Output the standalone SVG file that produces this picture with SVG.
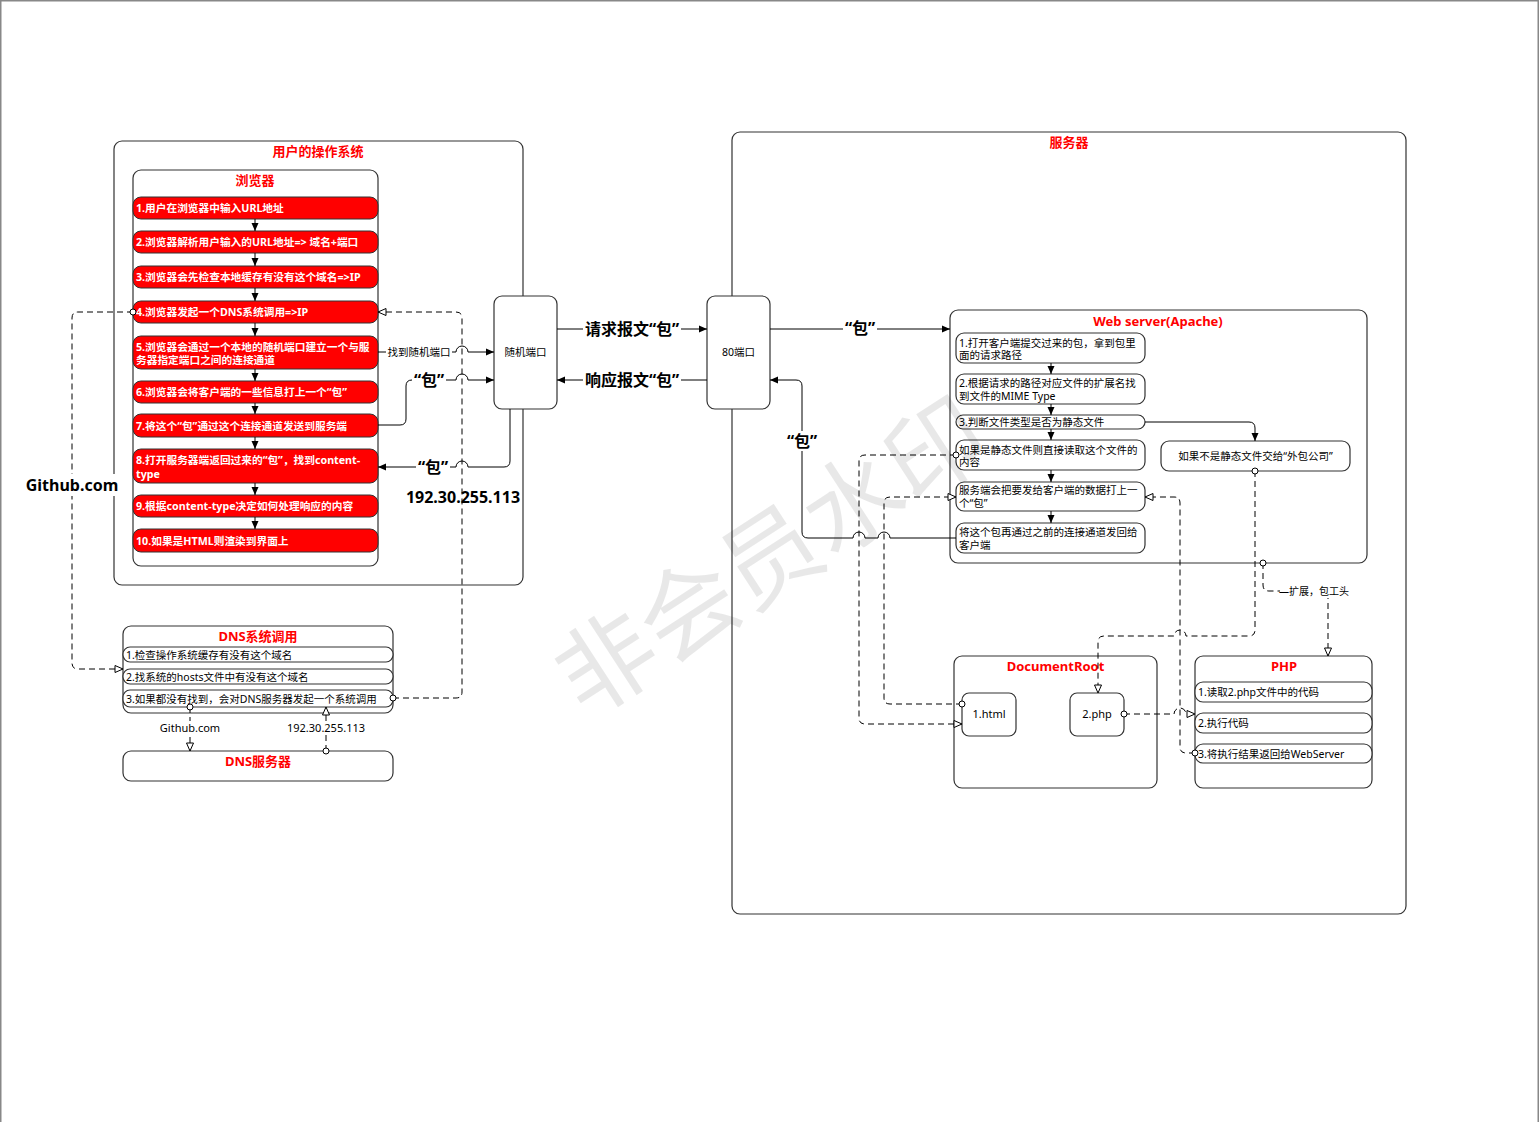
<svg xmlns="http://www.w3.org/2000/svg" width="1539" height="1122" viewBox="0 0 1539 1122">
<style>
text{font-family:"Noto Sans","Noto Sans CJK SC",sans-serif}
.box{fill:#fff;stroke:#333;stroke-width:1.2}
.step{fill:#ff0000;stroke:#333;stroke-width:1}
.title{fill:#ff0000;font-weight:bold;font-size:13px;text-anchor:middle}
.st{fill:#fff;font-weight:bold;font-size:10.7px}
.it{fill:#000;font-size:10.5px}
.c{text-anchor:middle}
.ln{fill:none;stroke:#000;stroke-width:1}
.dl{fill:none;stroke:#000;stroke-width:1;stroke-dasharray:6,4}
.big{font-weight:bold;font-size:16px;text-anchor:middle;fill:#000}
.bg{fill:#fff}
</style>
<defs>
<marker id="a" viewBox="0 0 8 8" refX="8" refY="4" markerWidth="8" markerHeight="8" markerUnits="userSpaceOnUse" orient="auto"><path d="M0,0.5 L8,4 L0,7.5 z" fill="#000"/></marker>
<marker id="h" viewBox="0 0 10 10" refX="9" refY="5" markerWidth="10" markerHeight="10" markerUnits="userSpaceOnUse" orient="auto"><path d="M1,1.5 L9,5 L1,8.5 z" fill="#fff" stroke="#000" stroke-width="1"/></marker>
<marker id="o" viewBox="0 0 8 8" refX="4" refY="4" markerWidth="8" markerHeight="8" markerUnits="userSpaceOnUse"><circle cx="4" cy="4" r="3" fill="#fff" stroke="#000" stroke-width="1"/></marker>
</defs>
<rect width="1539" height="1122" fill="#fff"/>
<path d="M0.75,1122 V0.75 H1538.25 V1122" fill="none" stroke="#888" stroke-width="1.5"/>

<g id="os">
<rect class="box" x="114" y="141" width="409" height="444" rx="8"/>
<text class="title" x="318" y="156">用户的操作系统</text>
</g>
<g id="server">
<rect class="box" x="732" y="132" width="674" height="782" rx="8"/>
<text class="title" x="1069" y="147">服务器</text>
</g>
<g id="browser">
<rect class="box" x="133" y="170" width="245" height="396" rx="8"/>
<text class="title" x="255" y="185">浏览器</text>
</g>
<g id="step1"><rect class="step" x="133" y="197" width="245" height="22" rx="8"/><text class="st" x="136" y="212">1.用户在浏览器中输入URL地址</text></g>
<g id="step2"><rect class="step" x="133" y="231" width="245" height="22" rx="8"/><text class="st" x="136" y="246">2.浏览器解析用户输入的URL地址=&gt; 域名+端口</text></g>
<g id="step3"><rect class="step" x="133" y="266" width="245" height="22" rx="8"/><text class="st" x="136" y="281">3.浏览器会先检查本地缓存有没有这个域名=&gt;IP</text></g>
<g id="step4"><rect class="step" x="133" y="301" width="245" height="22" rx="8"/><text class="st" x="136" y="316">4.浏览器发起一个DNS系统调用=&gt;IP</text></g>
<g id="step5"><rect class="step" x="133" y="336" width="245" height="33" rx="8"/><text class="st" x="136" y="350.5">5.浏览器会通过一个本地的随机端口建立一个与服</text><text class="st" x="136" y="363.5">务器指定端口之间的连接通道</text></g>
<g id="step6"><rect class="step" x="133" y="381" width="245" height="22" rx="8"/><text class="st" x="136" y="396">6.浏览器会将客户端的一些信息打上一个“包”</text></g>
<g id="step7"><rect class="step" x="133" y="414" width="245" height="23" rx="8"/><text class="st" x="136" y="429.5">7.将这个“包”通过这个连接通道发送到服务端</text></g>
<g id="step8"><rect class="step" x="133" y="449" width="245" height="34" rx="8"/><text class="st" x="136" y="464">8.打开服务器端返回过来的“包”，找到content-</text><text class="st" x="136" y="477.5">type</text></g>
<g id="step9"><rect class="step" x="133" y="495" width="245" height="22" rx="8"/><text class="st" x="136" y="510">9.根据content-type决定如何处理响应的内容</text></g>
<g id="step10"><rect class="step" x="133" y="529" width="245" height="23" rx="8"/><text class="st" x="136" y="544.5">10.如果是HTML则渲染到界面上</text></g>

<g id="dns">
<rect class="box" x="123" y="626" width="270" height="87" rx="8"/>
<text class="title" x="258" y="641">DNS系统调用</text>
<rect class="box" x="123" y="647" width="270" height="15" rx="7"/><text class="it" x="126" y="658.5">1.检查操作系统缓存有没有这个域名</text>
<rect class="box" x="123" y="669" width="270" height="15" rx="7"/><text class="it" x="126" y="680.5">2.找系统的hosts文件中有没有这个域名</text>
<rect class="box" x="123" y="690" width="270" height="17" rx="7"/><text class="it" x="126" y="702.5">3.如果都没有找到，会对DNS服务器发起一个系统调用</text>
</g>
<g id="dnsserver">
<rect class="box" x="123" y="751" width="270" height="30" rx="8"/>
<text class="title" x="258" y="766">DNS服务器</text>
</g>
<g id="randport">
<rect class="box" x="494" y="296" width="63" height="113" rx="8"/>
<text class="it c" x="525.5" y="356">随机端口</text>
</g>
<g id="port80">
<rect class="box" x="707" y="296" width="63" height="113" rx="8"/>
<text class="it c" x="738.5" y="356">80端口</text>
</g>

<g id="webserver">
<rect class="box" x="950" y="310" width="417" height="253" rx="8"/>
<text class="title" x="1158" y="326" font-size="14">Web server(Apache)</text>
</g>
<g id="ws1"><rect class="box" x="956" y="333" width="189" height="30" rx="8"/><text class="it" x="959" y="346.5">1.打开客户端提交过来的包，拿到包里</text><text class="it" x="959" y="359">面的请求路径</text></g>
<g id="ws2"><rect class="box" x="956" y="374" width="189" height="30" rx="8"/><text class="it" x="959" y="386.5">2.根据请求的路径对应文件的扩展名找</text><text class="it" x="959" y="399.5">到文件的MIME Type</text></g>
<g id="ws3"><rect class="box" x="956" y="415" width="189" height="14" rx="7"/><text class="it" x="959" y="426">3.判断文件类型是否为静态文件</text></g>
<g id="ws4"><rect class="box" x="956" y="440" width="189" height="30" rx="8"/><text class="it" x="959" y="453.5">如果是静态文件则直接读取这个文件的</text><text class="it" x="959" y="466">内容</text></g>
<g id="ws5"><rect class="box" x="956" y="482" width="189" height="29" rx="8"/><text class="it" x="959" y="494">服务端会把要发给客户端的数据打上一</text><text class="it" x="959" y="507">个“包”</text></g>
<g id="ws6"><rect class="box" x="956" y="523" width="189" height="30" rx="8"/><text class="it" x="959" y="535.5">将这个包再通过之前的连接通道发回给</text><text class="it" x="959" y="548.5">客户端</text></g>
<g id="outsource"><rect class="box" x="1161" y="441" width="189" height="30" rx="8"/><text class="it c" x="1255.5" y="460">如果不是静态文件交给“外包公司”</text></g>

<g id="docroot">
<rect class="box" x="954" y="656" width="203" height="132" rx="8"/>
<text class="title" x="1055.5" y="671">DocumentRoot</text>
</g>
<g id="html1"><rect class="box" x="962" y="693" width="54" height="43" rx="7"/><text class="c" x="989" y="718" font-size="11">1.html</text></g>
<g id="php2"><rect class="box" x="1070" y="693" width="54" height="43" rx="7"/><text class="c" x="1097" y="718" font-size="11">2.php</text></g>
<g id="php">
<rect class="box" x="1195" y="656" width="177" height="132" rx="8"/>
<text class="title" x="1284" y="671">PHP</text>
<rect class="box" x="1195" y="682" width="177" height="20" rx="8"/><text class="it" x="1198" y="696">1.读取2.php文件中的代码</text>
<rect class="box" x="1195" y="713" width="177" height="20" rx="8"/><text class="it" x="1198" y="727">2.执行代码</text>
<rect class="box" x="1195" y="744" width="177" height="19" rx="8"/><text class="it" x="1198" y="757.5">3.将执行结果返回给WebServer</text>
</g>

<g id="connectors">
<path class="ln" marker-end="url(#a)" d="M255,219 V231"/>
<path class="ln" marker-end="url(#a)" d="M255,253 V266"/>
<path class="ln" marker-end="url(#a)" d="M255,288 V301"/>
<path class="ln" marker-end="url(#a)" d="M255,323 V336"/>
<path class="ln" marker-end="url(#a)" d="M255,369 V381"/>
<path class="ln" marker-end="url(#a)" d="M255,403 V414"/>
<path class="ln" marker-end="url(#a)" d="M255,437 V449"/>
<path class="ln" marker-end="url(#a)" d="M255,483 V495"/>
<path class="ln" marker-end="url(#a)" d="M255,517 V529"/>

<path class="ln" marker-end="url(#a)" d="M1051,363 V374"/>
<path class="ln" marker-end="url(#a)" d="M1051,404 V415"/>
<path class="ln" marker-end="url(#a)" d="M1051,429 V440"/>
<path class="ln" marker-end="url(#a)" d="M1051,470 V482"/>
<path class="ln" marker-end="url(#a)" d="M1051,511 V523"/>
<path class="ln" marker-end="url(#a)" d="M1145,422 H1249 Q1255,422 1255,428 V441"/>

<path class="dl" marker-start="url(#o)" marker-end="url(#h)" d="M393,698 H456 Q462,698 462,692 V318 Q462,312 456,312 H378"/>
<path class="dl" marker-start="url(#o)" marker-end="url(#h)" d="M133,312 H78 Q72,312 72,318 V663 Q72,669 78,669 H123"/>
<rect class="bg" x="24" y="474" width="96" height="22"/>
<text class="big" x="72" y="491">Github.com</text>
<path class="dl" marker-start="url(#o)" marker-end="url(#h)" d="M190,707 V751"/>
<path class="dl" marker-start="url(#o)" marker-end="url(#h)" d="M326,751 V707"/>
<rect class="bg" x="158" y="721" width="66" height="14"/>
<text class="c" x="190" y="732" font-size="11">Github.com</text>
<rect class="bg" x="287" y="721" width="78" height="14"/>
<text class="c" x="326" y="732" font-size="11">192.30.255.113</text>

<path class="ln" marker-end="url(#a)" d="M378,352 H456 A6,6 0 0 1 468,352 H494"/>
<rect class="bg" x="386" y="345" width="66" height="14"/>
<text class="c" x="419" y="356" font-size="10.5">找到随机端口</text>
<path class="ln" marker-end="url(#a)" d="M378,425 H400 Q406,425 406,419 V386 Q406,380 412,380 H456 A6,6 0 0 1 468,380 H494"/>
<rect class="bg" x="412" y="370" width="34" height="20"/>
<text class="big" x="429" y="386">“包”</text>
<path class="ln" marker-end="url(#a)" d="M510,409 V461 Q510,467 504,467 H468 A6,6 0 0 0 456,467 H378"/>
<rect class="bg" x="416" y="457" width="34" height="20"/>
<text class="big" x="433" y="473">“包”</text>
<text class="big" x="463" y="503">192.30.255.113</text>

<path class="ln" marker-end="url(#a)" d="M557,329 H707"/>
<rect class="bg" x="583" y="318" width="98" height="22"/>
<text class="big" x="632" y="335">请求报文“包”</text>
<path class="ln" marker-end="url(#a)" d="M707,380 H557"/>
<rect class="bg" x="583" y="369" width="98" height="22"/>
<text class="big" x="632" y="386">响应报文“包”</text>
<path class="ln" marker-end="url(#a)" d="M770,329 H950"/>
<rect class="bg" x="843" y="318" width="34" height="20"/>
<text class="big" x="860" y="334">“包”</text>
<path class="ln" marker-end="url(#a)" d="M956,538 H890 A6,6 0 0 0 878,538 H865 A6,6 0 0 0 853,538 H808 Q802,538 802,532 V386 Q802,380 796,380 H770"/>
<rect class="bg" x="785" y="431" width="34" height="20"/>
<text class="big" x="802" y="447">“包”</text>

<path class="dl" marker-start="url(#o)" marker-end="url(#h)" d="M956,455 H865 Q859,455 859,461 V718 Q859,724 865,724 H962"/>
<path class="dl" marker-start="url(#o)" marker-end="url(#h)" d="M962,704 H890 Q884,704 884,698 V503 Q884,497 890,497 H956"/>
<path class="dl" marker-start="url(#o)" marker-end="url(#h)" d="M1255,471 V630 Q1255,636 1249,636 H1186 A6,6 0 0 0 1174,636 H1104 Q1098,636 1098,642 V693"/>
<path class="dl" marker-start="url(#o)" marker-end="url(#h)" d="M1263,563 V585 Q1263,591 1269,591 H1322 Q1328,591 1328,597 V656"/>
<rect class="bg" x="1280" y="584" width="68" height="14"/>
<text class="c" x="1314" y="595" font-size="10" font-family="Liberation Serif,Noto Sans CJK SC,serif">—扩展，包工头</text>
<path class="dl" marker-start="url(#o)" marker-end="url(#h)" d="M1195,753 H1186 Q1180,753 1180,747 V503 Q1180,497 1174,497 H1145"/>
<path class="dl" marker-start="url(#o)" marker-end="url(#h)" d="M1124,714 H1174 A6,6 0 0 1 1186,714 H1195"/>
</g>
<text x="0" y="37" font-size="98" fill="#000" fill-opacity="0.09" text-anchor="middle" font-family="Noto Sans CJK SC,sans-serif" transform="translate(770,555) rotate(-33)">非会员水印</text>
</svg>
